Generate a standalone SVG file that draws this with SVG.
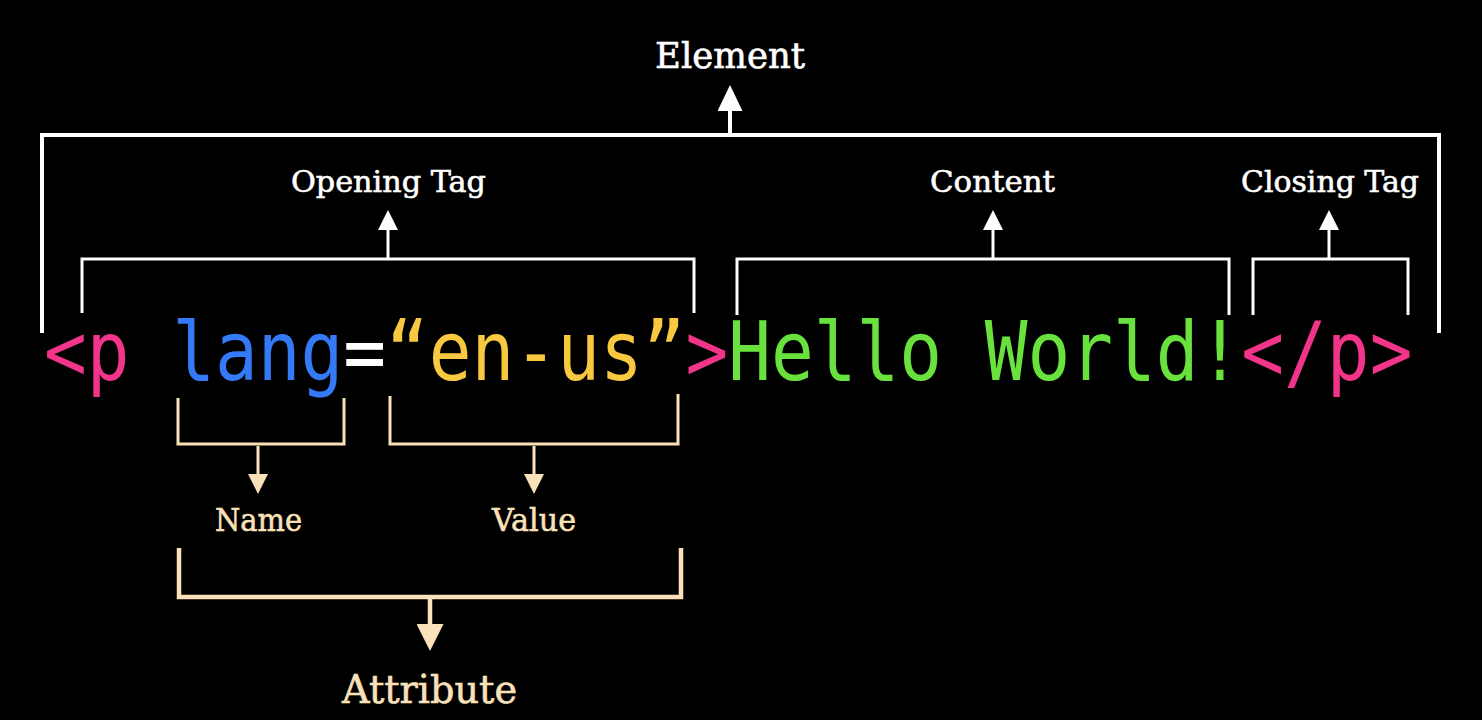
<svg xmlns="http://www.w3.org/2000/svg" width="1482" height="720" viewBox="0 0 1482 720">
  <style>
    .label { font-family: "DejaVu Serif", "Liberation Serif", serif; stroke-width: 0.6px; }
    .w { fill: #ffffff; stroke: #ffffff; }
    .c { fill: #FAE1B9; stroke: #FAE1B9; }
    .br { fill: none; stroke-linejoin: miter; stroke-linecap: butt; }
    .bw { stroke: #ffffff; }
    .bc { stroke: #FAE1B9; }
    .code { font-family: "DejaVu Sans Mono", "Liberation Mono", monospace; font-size: 81px; white-space: pre; }
  </style>
  <defs>
    <marker id="hBigW" markerUnits="userSpaceOnUse" markerWidth="26" markerHeight="25" viewBox="0 0 26 25" refX="0" refY="12.5" orient="auto">
      <path d="M0,0 L26,12.5 L0,25 Z" fill="#ffffff"/>
    </marker>
    <marker id="hSmW" markerUnits="userSpaceOnUse" markerWidth="20" markerHeight="20" viewBox="0 0 20 20" refX="0" refY="10" orient="auto">
      <path d="M0,0 L20,10 L0,20 Z" fill="#ffffff"/>
    </marker>
    <marker id="hSmC" markerUnits="userSpaceOnUse" markerWidth="20" markerHeight="20" viewBox="0 0 20 20" refX="0" refY="10" orient="auto">
      <path d="M0,0 L20,10 L0,20 Z" fill="#FAE1B9"/>
    </marker>
    <marker id="hBigC" markerUnits="userSpaceOnUse" markerWidth="27" markerHeight="27" viewBox="0 0 27 27" refX="0" refY="13.5" orient="auto">
      <path d="M0,0 L27,13.5 L0,27 Z" fill="#FAE1B9"/>
    </marker>
  </defs>
  <rect x="0" y="0" width="1482" height="720" fill="#000000"/>

  <g id="code">
    <text class="code" transform="translate(44,380) scale(0.877,1)"><tspan fill="#F2358B">&lt;p </tspan><tspan fill="#3479F5">lang</tspan><tspan fill="#ffffff">=</tspan><tspan fill="#F8C840">“en-us”</tspan><tspan fill="#F2358B">&gt;</tspan><tspan fill="#6AE23E">Hello World!</tspan><tspan fill="#F2358B">&lt;/p&gt;</tspan></text>
  </g>

  <g id="connectors">
    <path class="br bw" stroke-width="4" d="M42,333 V135 H1439 V333"/>
    <path class="br bw" stroke-width="3" d="M82,313 V259 H694 V313"/>
    <path class="br bw" stroke-width="3" d="M737,315 V259 H1229 V315"/>
    <path class="br bw" stroke-width="3" d="M1253,315 V259 H1408 V315"/>
    <path class="br bc" stroke-width="3" d="M178,398 V444 H344 V398"/>
    <path class="br bc" stroke-width="3" d="M390,396 V444 H678 V394"/>
    <path class="br bc" stroke-width="4.5" d="M179,548 V597 H681 V548"/>

    <line x1="730" y1="134" x2="730" y2="111" stroke="#ffffff" stroke-width="4" marker-end="url(#hBigW)"/>
    <line x1="388" y1="259" x2="388" y2="230" stroke="#ffffff" stroke-width="3" marker-end="url(#hSmW)"/>
    <line x1="993" y1="259" x2="993" y2="230" stroke="#ffffff" stroke-width="3" marker-end="url(#hSmW)"/>
    <line x1="1329" y1="259" x2="1329" y2="230" stroke="#ffffff" stroke-width="3" marker-end="url(#hSmW)"/>
    <line x1="258" y1="446" x2="258" y2="474" stroke="#FAE1B9" stroke-width="3" marker-end="url(#hSmC)"/>
    <line x1="534" y1="446" x2="534" y2="474" stroke="#FAE1B9" stroke-width="3" marker-end="url(#hSmC)"/>
    <line x1="430" y1="599" x2="430" y2="624" stroke="#FAE1B9" stroke-width="4.5" marker-end="url(#hBigC)"/>
  </g>

  <g id="element"><text class="label w" x="655" y="68" font-size="35" textLength="150" lengthAdjust="spacingAndGlyphs">Element</text></g>
  <g id="opening-tag"><text class="label w" x="291" y="192" font-size="30" textLength="195" lengthAdjust="spacingAndGlyphs">Opening Tag</text></g>
  <g id="content"><text class="label w" x="930" y="192" font-size="30" textLength="125" lengthAdjust="spacingAndGlyphs">Content</text></g>
  <g id="closing-tag"><text class="label w" x="1241" y="192" font-size="30" textLength="178" lengthAdjust="spacingAndGlyphs">Closing Tag</text></g>
  <g id="name"><text class="label c" x="215" y="531" font-size="32" textLength="87" lengthAdjust="spacingAndGlyphs">Name</text></g>
  <g id="value"><text class="label c" x="492" y="531" font-size="32" textLength="84" lengthAdjust="spacingAndGlyphs">Value</text></g>
  <g id="attribute"><text class="label c" x="342" y="703" font-size="39" textLength="175" lengthAdjust="spacingAndGlyphs">Attribute</text></g>
</svg>
